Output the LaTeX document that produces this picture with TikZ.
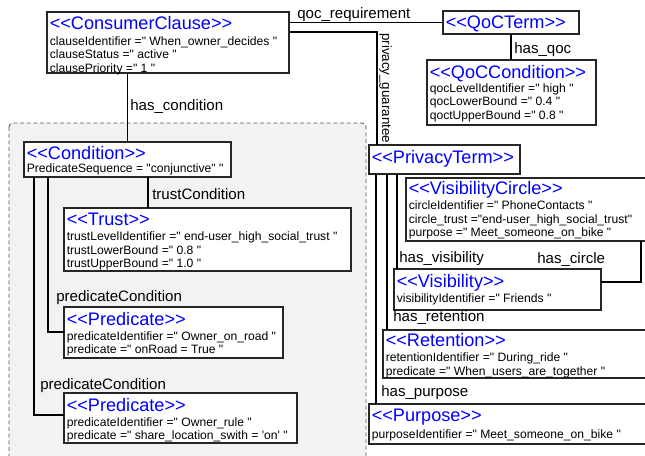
\documentclass[tikz,border=0pt]{standalone}
\usepackage{fontspec}
\setmainfont{Liberation Sans}[Ligatures=TeXOff]
\usetikzlibrary{calc}

\tikzset{
  classbox/.style={draw=black!85, line width=0.9pt, fill=white, inner sep=0pt, outer sep=0pt, anchor=north west},
  classtitle/.style={anchor=base west, inner sep=0pt, text=blue, font=\fontsize{13.6}{16}\selectfont},
  classattr/.style={anchor=base west, inner sep=0pt, font=\fontsize{9.1}{11}\selectfont},
  rolelabel/.style={anchor=base west, inner sep=0pt, font=\fontsize{11.3}{13}\selectfont},
  conn/.style={draw=black, line width=0.8pt},
  groupframe/.style={fill=black!5, draw=black!65, line width=0.7pt, dash pattern=on 3pt off 2pt, rounded corners=3pt}
}

% #1 name, #2 x, #3 y, #4 width, #5 height, #6 stereotype title,
% #7 title baseline offset, #8 first attribute baseline offset, #9 attribute lines
\newcommand\umlclass[9]{%
  \node[classbox, minimum width={#4*0.75pt}, minimum height={#5*0.75pt}] (#1) at (#2,#3) {};
  \node[classtitle] (#1-title) at ($(#1.north west)+(2.5,#7)$) {#6};
  \foreach \a [count=\i] in {#9} {
    \node[classattr] (#1-a\i) at ($(#1.north west)+(2.5,{#8+(\i-1)*13.5})$) {\a};
  }
}
% class box that only carries its stereotype title
\newcommand\umlhead[7]{%
  \node[classbox, minimum width={#4*0.75pt}, minimum height={#5*0.75pt}] (#1) at (#2,#3) {};
  \node[classtitle] (#1-title) at ($(#1.north west)+(2.5,#7)$) {#6};
}

\begin{document}
\begin{tikzpicture}[x=0.75pt, y=-0.75pt]
\clip (0,0) rectangle (645,455);

% grouping frame around the condition part
\filldraw[groupframe] (9,123) rectangle (366,475);

% classes
\umlclass{cc}{47}{12}{242}{61}{<<ConsumerClause>>}{17.5}{33}{%
  clauseIdentifier =" When\_owner\_decides ",
  clauseStatus =" active ",
  clausePriority =" 1 "}
\umlhead{qt}{443}{11}{136}{23}{<<QoCTerm>>}{17.5}
\umlclass{qcond}{427}{60}{169}{65}{<<QoCCondition>>}{18}{32}{%
  qocLevelIdentifier =" high ",
  qocLowerBound =" 0.4 ",
  qoctUpperBound =" 0.8 "}
\umlclass{cond}{24}{142}{207}{35}{<<Condition>>}{17.5}{30.5}{%
  PredicateSequence = "conjunctive" "}
\umlclass{trust}{64}{208}{287}{63}{<<Trust>>}{17}{32.5}{%
  trustLevelIdentifier =" end-user\_high\_social\_trust ",
  trustLowerBound =" 0.8 ",
  trustUpperBound =" 1.0 "}
\umlclass{p1}{64}{307}{219}{51}{<<Predicate>>}{18}{33}{%
  predicateIdentifier =" Owner\_on\_road ",
  predicate =" onRoad = True "}
\umlclass{p2}{64}{393}{233}{50}{<<Predicate>>}{18}{33}{%
  predicateIdentifier =" Owner\_rule ",
  predicate =" share\_location\_swith = 'on' "}
\umlhead{pt}{369}{145}{151}{29}{<<PrivacyTerm>>}{18}
\umlclass{vc}{406}{178}{260}{63}{<<VisibilityCircle>>}{16.5}{31.5}{%
  circleIdentifier =" PhoneContacts ",
  circle\_trust ="end-user\_high\_social\_trust",
  purpose =" Meet\_someone\_on\_bike "}
\umlclass{vis}{394}{269}{207}{41}{<<Visibility>>}{18}{33}{%
  visibilityIdentifier =" Friends "}
\umlclass{ret}{383}{330}{280}{48}{<<Retention>>}{16}{31.5}{%
  retentionIdentifier =" During\_ride ",
  predicate =" When\_users\_are\_together "}
\umlclass{pur}{369}{404}{290}{40}{<<Purpose>>}{17.5}{34}{%
  purposeIdentifier =" Meet\_someone\_on\_bike "}

% connectors
\draw[conn] (cond.north |- cc.south) -- (cond.north);
\draw[conn] (qt.west -| cc.east) -- (qt.west);
\draw[conn] (qt.south) -- (qt.south |- qcond.north);

\coordinate (pgs) at ($(cc.north east)+(0,20)$);
\coordinate (pge) at ($(pt.north west)+(8,0)$);
\draw[conn] (pgs) -| (pge);

\coordinate (tcs) at ($(cond.south west)+(124,0)$);
\draw[conn] (tcs) -- (tcs |- trust.north);

\coordinate (pc1) at ($(cond.south west)+(24,0)$);
\coordinate (pc1e) at ($(p1.north west)+(0,25)$);
\draw[conn] (pc1) |- (pc1e);
\coordinate (pc2) at ($(cond.south west)+(10,0)$);
\coordinate (pc2e) at ($(p2.north west)+(0,22)$);
\draw[conn] (pc2) |- (pc2e);

\coordinate (hpu) at ($(pt.south west)+(7,0)$);
\draw[conn] (hpu) -- (hpu |- pur.north);
\coordinate (hre) at ($(pt.south west)+(18,0)$);
\draw[conn] (hre) -- (hre |- ret.north);
\coordinate (hvi) at ($(pt.south west)+(28,0)$);
\draw[conn] (hvi) -- (hvi |- vis.north);

\coordinate (hci) at ($(vc.south west)+(235,0)$);
\coordinate (hcie) at ($(vis.north east)+(0,13)$);
\draw[conn] (hci) |- (hcie);

% role names
\node[rolelabel] (l-qoc) at (297,18.5) {qoc\_requirement};
\node[rolelabel] (l-hqoc) at (514,53) {has\_qoc};
\node[rolelabel] (l-hcond) at (130,110) {has\_condition};
\node[rolelabel] (l-trust) at (152,199) {trustCondition};
\node[rolelabel] (l-pred1) at (56,301.5) {predicateCondition};
\node[rolelabel] (l-pred2) at (40,389.3) {predicateCondition};
\node[rolelabel, rotate=-90, font=\fontsize{10}{12}\selectfont] (l-priv) at (382,33) {privacy\_guarantee};
\node[rolelabel] (l-hvis) at (399,262.5) {has\_visibility};
\node[rolelabel] (l-hcir) at (537,263) {has\_circle};
\node[rolelabel] (l-hret) at (393,321) {has\_retention};
\node[rolelabel] (l-hpur) at (381,396) {has\_purpose};
\end{tikzpicture}
\end{document}
